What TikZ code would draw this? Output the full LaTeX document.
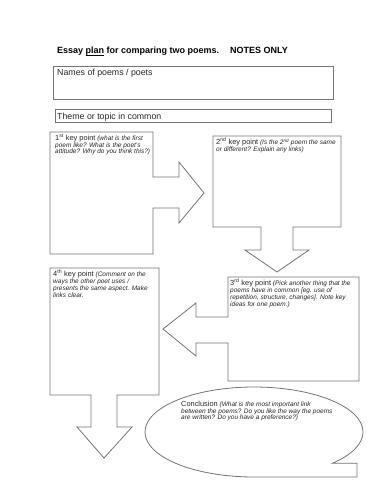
\documentclass[tikz,border=0pt]{standalone}
\usepackage{fontspec}
\setmainfont{Liberation Sans}
\newcommand{\ulword}[1]{{\setbox0\hbox{#1}\rlap{\rule[-1.3pt]{\wd0}{0.6pt}}#1}}
\begin{document}
\begin{tikzpicture}[x=1pt,y=-1pt,
  shapeline/.style={draw=black!55, line width=0.8pt, line join=miter},
  boxtxt/.style={anchor=north west, inner sep=0pt, align=left, text=black!85,
    font=\fontsize{6.5}{6.7}\selectfont\itshape},
  plain/.style={anchor=base west, inner sep=0pt, text=black!85,
    font=\fontsize{8.8}{10}\selectfont},
  titletxt/.style={anchor=base west, inner sep=0pt, text=black,
    font=\fontsize{9}{11}\selectfont\bfseries}]
\newcommand{\kpt}[2]{{\upshape\fontsize{7.4}{7.4}\selectfont #1\textsuperscript{#2} key point}}
\useasboundingbox (0,0) rectangle (386,500);
% title
\node[titletxt] (title) at (57,54) {Essay \ulword{plan} for comparing two poems.\hspace{11pt}NOTES ONLY};
% names box
\draw[shapeline] (53,66) rectangle (333,99);
\node[plain] (names) at (57,76) {Names of poems / poets};
% theme box
\draw[shapeline] (55,109) rectangle (331,122);
\node[plain] (theme) at (57,119.5) {Theme or topic in common};
% box 1
\draw[shapeline] (50,132) -- (153,132) -- (153,177) -- (179,177) -- (179,162) -- (204,193)
  -- (179,223) -- (179,208) -- (153,208) -- (153,254) -- (50,254) -- cycle;
\node[boxtxt] (t1) at (55,134) {\kpt{1}{st} (what is the first\\poem like? What is the poet's\\attitude? Why do you think this?)};
% box 2
\draw[shapeline] (213,136) -- (341,136) -- (341,227) -- (293,227) -- (293,250) -- (309,250)
  -- (277,272) -- (245,250) -- (261,250) -- (261,227) -- (213,227) -- cycle;
\node[boxtxt] (t2) at (216,138) {\kpt{2}{nd} (Is the 2\textsuperscript{nd} poem the same\\or different? Explain any links)};
% box 3
\draw[shapeline] (228,277) -- (359,277) -- (359,381) -- (228,381) -- (228,343) -- (196,343)
  -- (196,356) -- (163,329) -- (196,303) -- (196,317) -- (228,317) -- cycle;
\node[boxtxt] (t3) at (230,279) {\kpt{3}{rd} (Pick another thing that the\\poems have in common [eg. use of\\repetition, structure, changes]. Note key\\ideas for one poem.)};
% box 4
\draw[shapeline] (50,268) -- (159,268) -- (159,395) -- (117,395) -- (117,427) -- (132,427)
  -- (104,458) -- (77,427) -- (91,427) -- (91,395) -- (50,395) -- cycle;
\node[boxtxt] (t4) at (53,270) {\kpt{4}{th} (Comment on the\\ways the other poet uses /\\presents the same aspect. Make\\links clear.};
% conclusion callout
\draw[shapeline] (254,477) arc[start angle=90, end angle=404, x radius=109, y radius=45]
  -- (357,463.3) -- (357,477) -- cycle;
\node[boxtxt] (t5) at (181,401) {{\upshape\fontsize{7.4}{7.4}\selectfont Conclusion} (What is the most important link\\between the poems? Do you like the way the poems\\are written? Do you have a preference?)};
\end{tikzpicture}
\end{document}
